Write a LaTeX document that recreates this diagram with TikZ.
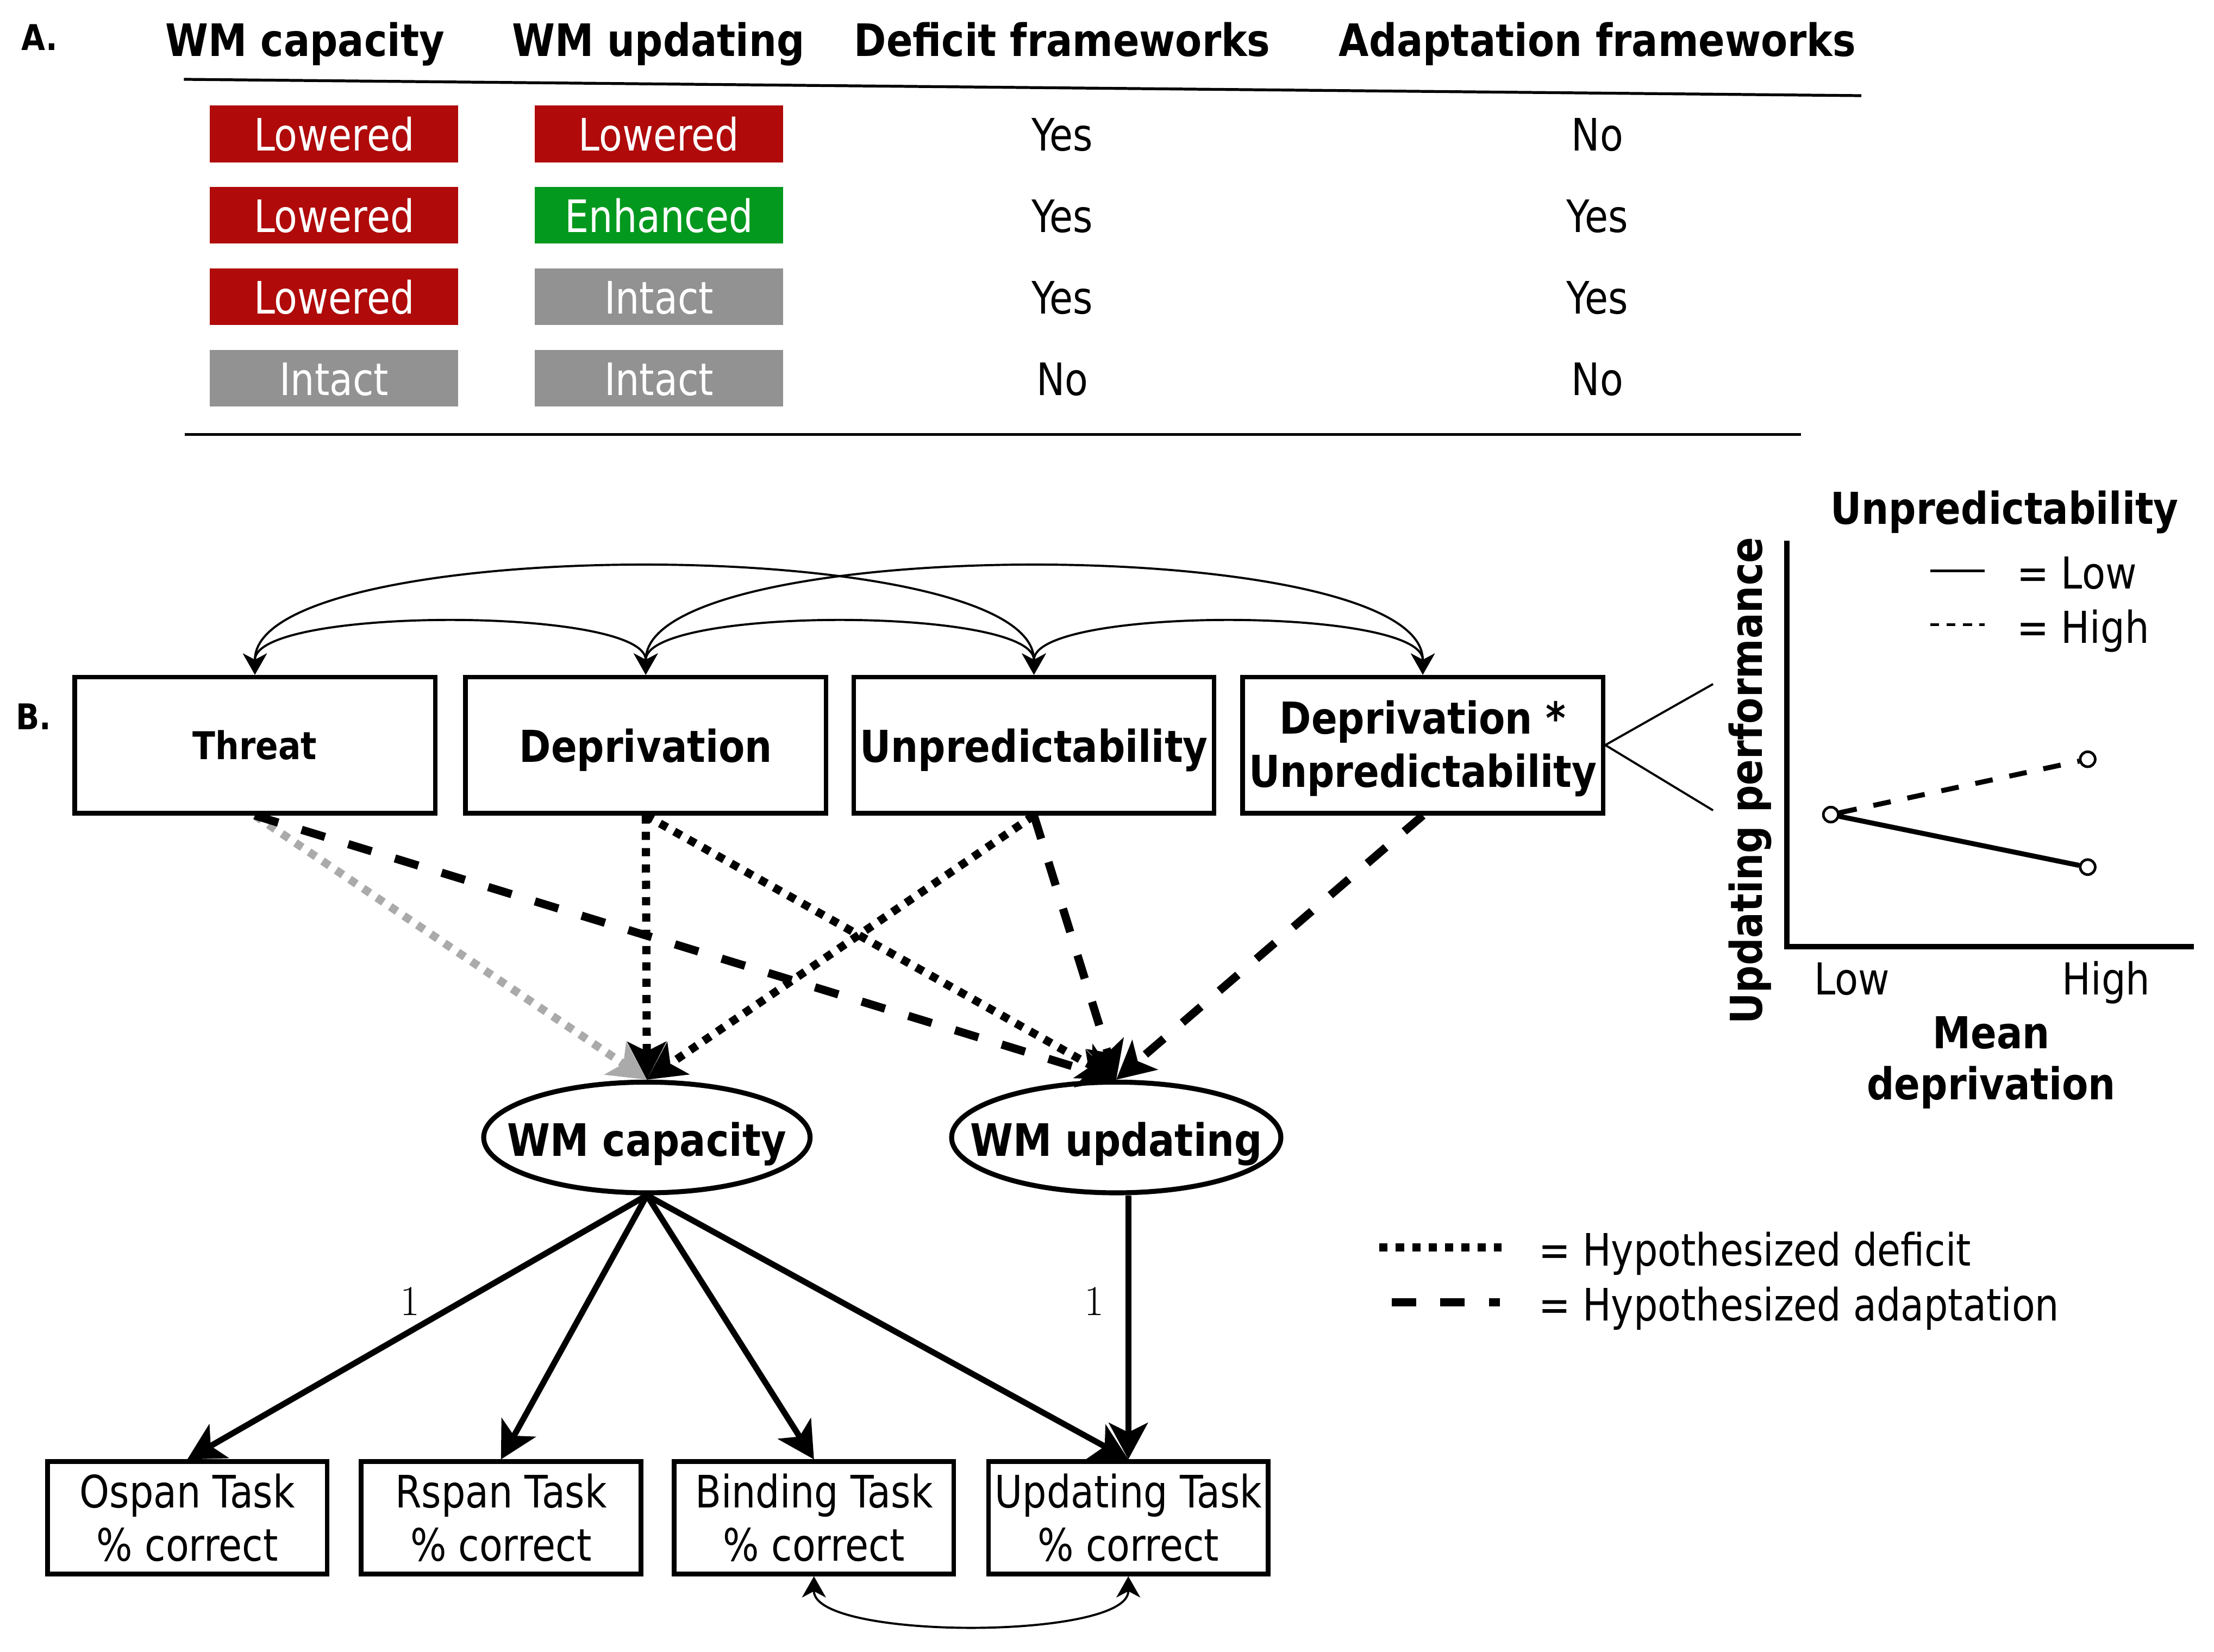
\documentclass[tikz,border=0pt]{standalone}
\usepackage{fontspec}
\newfontfamily\tahR[FakeStretch=0.85]{DejaVu Sans}
\newfontfamily\tahB[FakeStretch=0.87]{DejaVu Sans}
\usetikzlibrary{arrows.meta,shapes.geometric,calc}
\definecolor{cellred}{RGB}{176,10,10}
\definecolor{cellgreen}{RGB}{3,153,30}
\definecolor{cellgray}{RGB}{146,146,146}
\definecolor{arrgray}{RGB}{170,170,170}
\newcommand\fsz[2]{\fontsize{#1}{#2}\selectfont}
\tikzset{
  hdr/.style={font=\tahB\bfseries\fsz{31.5}{38}, anchor=base, inner sep=0pt},
  cellbox/.style={minimum width=175pt, minimum height=40pt, inner sep=0pt, text=white,
     text height=24pt, text depth=0pt, font=\tahR\fsz{31.5}{38}},
  plaincell/.style={inner sep=0pt, text height=24pt, text depth=0pt, font=\tahR\fsz{31.5}{38}},
  varbox/.style={draw, line width=3.2pt, minimum width=254pt, minimum height=96pt, inner sep=0pt,
     fill=white, align=center, font=\tahB\bfseries\fsz{31}{37.5}},
  oneline/.style={text height=24pt, text depth=0pt},
  latent/.style={ellipse, draw, line width=3.5pt, minimum height=78pt, inner sep=0pt,
     text height=26.4pt, text depth=0pt, font=\tahB\bfseries\fsz{31.5}{38}},
  taskbox/.style={draw, line width=3.4pt, minimum width=197pt, minimum height=79pt, inner sep=0pt,
     fill=white, align=center, font=\tahR\fsz{31.5}{37.5}},
  bighead/.style={-{Stealth[length=27pt,width=28pt,inset=7pt,line width=0.8pt]}},
  deficit/.style={line width=5.75pt, dash pattern=on 5.75pt off 5.75pt, bighead},
  adapt/.style={line width=5.75pt, dash pattern=on 17.2pt off 17.2pt, bighead},
  load/.style={line width=4.2pt, -{Stealth[length=26pt,width=28pt,inset=7pt,line width=0.8pt]}},
  covar/.style={line width=1.5pt, {Stealth[length=15pt,width=17pt,inset=4.5pt,line width=0.5pt]}-{Stealth[length=15pt,width=17pt,inset=4.5pt,line width=0.5pt]}},
  thin/.style={line width=1.5pt},
  ptc/.style={circle, draw, fill=white, line width=1.8pt, inner sep=0pt, minimum size=10.5pt},
  chartlbl/.style={font=\tahB\fsz{31}{36}, inner sep=0pt},
  chartbold/.style={font=\tahB\bfseries\fsz{31}{36}, inner sep=0pt, align=center},
}
\begin{document}
\begin{tikzpicture}[x=1pt,y=-1pt]
\fill[white] (0,0) rectangle (1560,1164);
\useasboundingbox (0,0) rectangle (1560,1164);

% ---------------- Part A: table ----------------
\node[font=\tahB\bfseries\fsz{25}{30}, anchor=base west, inner sep=0pt] (labA) at (15,35.5) {A.};
\node[hdr] (h1) at (215,39.5) {WM capacity};
\node[hdr] (h2) at (464,39.5) {WM updating};
\node[hdr] (h3) at (748.5,39.5) {Deficit frameworks};
\node[hdr] (h4) at (1125.5,39.5) {Adaptation frameworks};
\draw[line width=2pt] (129.6,55.9) -- (1311.5,67.4);

\node[cellbox, fill=cellred]   (c11) at (235.4,94.3)  {Lowered};
\node[cellbox, fill=cellred]   (c12) at (464.3,94.3)  {Lowered};
\node[plaincell]               (c13) at (748.5,94.3)  {Yes};
\node[plaincell]               (c14) at (1125.5,94.3) {No};

\node[cellbox, fill=cellred]   (c21) at (235.4,151.7) {Lowered};
\node[cellbox, fill=cellgreen] (c22) at (464.3,151.7) {Enhanced};
\node[plaincell]               (c23) at (748.5,151.7) {Yes};
\node[plaincell]               (c24) at (1125.5,151.7){Yes};

\node[cellbox, fill=cellred]   (c31) at (235.4,209.1) {Lowered};
\node[cellbox, fill=cellgray]  (c32) at (464.3,209.1) {Intact};
\node[plaincell]               (c33) at (748.5,209.1) {Yes};
\node[plaincell]               (c34) at (1125.5,209.1){Yes};

\node[cellbox, fill=cellgray]  (c41) at (235.4,266.5) {Intact};
\node[cellbox, fill=cellgray]  (c42) at (464.3,266.5) {Intact};
\node[plaincell]               (c43) at (748.5,266.5) {No};
\node[plaincell]               (c44) at (1125.5,266.5){No};
\draw[line width=2pt] (130,306) -- (1269,306);

% ---------------- Part B: model ----------------
\node[font=\tahB\bfseries\fsz{25}{30}, anchor=base west, inner sep=0pt] (labB) at (11,514) {B.};

\node[varbox, text height=20pt, text depth=0pt, font=\tahB\bfseries\fsz{27}{33}] (threat) at (179.6,525) {Threat};
\node[varbox, oneline] (depr) at (455,525) {Deprivation};
\node[varbox, oneline] (unpr) at (728.5,525) {Unpredictability};
\node[varbox, text depth=1.5pt] (dxu) at (1002.5,525) {Deprivation *\\Unpredictability};

% covariances among predictors
\draw[covar] (threat.north) .. controls +(0,-48) and +(0,-48) .. (depr.north);
\draw[covar] (depr.north) .. controls +(0,-48) and +(0,-48) .. (unpr.north);
\draw[covar] (unpr.north) .. controls +(0,-48) and +(0,-48) .. (dxu.north);
\draw[covar] (threat.north) .. controls +(0,-100) and +(0,-100) .. (unpr.north);
\draw[covar] (depr.north) .. controls +(0,-100) and +(0,-100) .. (dxu.north);

% latent variables
\node[latent, minimum width=230pt] (wmcap) at (455.8,801.5) {\makebox[0pt]{WM capacity}};
\node[latent, minimum width=232pt] (wmupd) at (786.5,801.5) {\makebox[0pt]{WM updating}};

% hypothesized paths
\draw[deficit, draw=arrgray] (threat.south) -- (wmcap.north);
\draw[deficit] (depr.south) -- (wmcap.north);
\draw[deficit] (unpr.south) -- (wmcap.north);
\draw[adapt] (threat.south) -- (wmupd.north);
\draw[deficit] (depr.south) -- (wmupd.north);
\draw[adapt] (unpr.south) -- (wmupd.north);
\draw[adapt] (dxu.south) -- (wmupd.north);

% indicators
\node[taskbox] (ospan) at (132,1069.5) {Ospan Task\\\% correct};
\node[taskbox] (rspan) at (353,1069.5) {Rspan Task\\\% correct};
\node[taskbox] (bind)  at (573.5,1069.5) {Binding Task\\\% correct};
\node[taskbox] (updt)  at (795,1069.5) {Updating Task\\\% correct};

\draw[load] (wmcap.south) -- (ospan.north);
\draw[load] (wmcap.south) -- (rspan.north);
\draw[load] (wmcap.south) -- (bind.north);
\draw[load] (wmcap.south) -- (updt.north);
\draw[load] (wmupd.south -| updt.north) -- (updt.north);

\node[font=\rmfamily\fsz{30}{36}, inner sep=0pt] (one1) at (289,917) {1};
\node[font=\rmfamily\fsz{30}{36}, inner sep=0pt] (one2) at (771,917) {1};

\draw[covar] (bind.south) .. controls +(0,45) and +(0,45) .. (updt.south);

% legend for path types
\coordinate (ld1) at (972,879);
\coordinate (ld2) at (1058,879);
\coordinate (la1) at (980.5,917.5);
\coordinate (la2) at (1057,917.5);
\draw[line width=5.75pt, dash pattern=on 5.75pt off 5.75pt] (ld1) -- (ld2);
\draw[line width=5.75pt, dash pattern=on 17.2pt off 17.2pt] (la1) -- (la2);
\node[font=\tahR\fsz{31.5}{38}, anchor=base west, inner sep=0pt] (legd) at (1084,892) {= Hypothesized deficit};
\node[font=\tahR\fsz{31.5}{38}, anchor=base west, inner sep=0pt] (lega) at (1084,930.5) {= Hypothesized adaptation};

% ---------------- interaction plot ----------------
\coordinate (cu) at (1207,482);
\coordinate (cd) at (1207,571);
\draw[thin] (dxu.east) -- (cu);
\draw[thin] (dxu.east) -- (cd);

\node[chartbold, anchor=base] (ptitle) at (1412.4,369.2) {Unpredictability};
\draw[line width=4pt] (1259,381) -- (1259,667) -- (1546,667);
\node[chartbold, rotate=90] (ylab) at (1233,550) {Updating performance};

\draw[line width=1.9pt] (1360,402.1) -- (1398.4,402.1);
\draw[line width=1.9pt, dash pattern=on 6.4pt off 5.1pt] (1360,440) -- (1398.4,440);
\node[chartlbl, anchor=base west] (lgl) at (1421,414.9) {= Low};
\node[chartlbl, anchor=base west] (lgh) at (1421,453.2) {= High};

\node[ptc] (pl)  at (1290,574) {};
\node[ptc] (phs) at (1471,611) {};
\node[ptc] (phd) at (1471,535) {};
\draw[line width=3.5pt] (pl) -- (phs);
\draw[line width=3.5pt, dash pattern=on 12.5pt off 12pt] (pl) -- (phd);
\node[ptc] at (pl) {};
\node[ptc] at (phs) {};
\node[ptc] at (phd) {};

\node[chartlbl, anchor=base] (xlo) at (1305,701) {Low};
\node[chartlbl, anchor=base] (xhi) at (1484,701) {High};
\node[chartbold, anchor=base] (xlab) at (1403,775) {Mean\\deprivation};
\end{tikzpicture}
\end{document}
